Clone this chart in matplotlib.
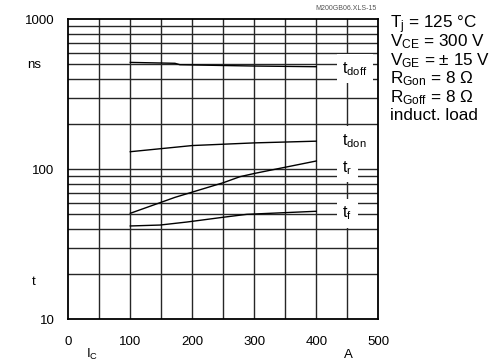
import matplotlib
matplotlib.use("Agg")
import matplotlib.pyplot as plt
import numpy as np

plt.rcParams['font.family'] = ['Liberation Sans', 'DejaVu Sans']
plt.rcParams['mathtext.fontset'] = 'custom'
plt.rcParams['mathtext.rm'] = 'Liberation Sans'
plt.rcParams['mathtext.it'] = 'Liberation Sans'
plt.rcParams['mathtext.default'] = 'rm'

# Switching times vs collector current (Tj = 125 °C)
ic_doff = [100, 172, 180, 250, 300, 400]
t_doff = [516, 509, 498, 492, 488, 483]

ic_don = [100, 200, 300, 400]
t_don = [131, 144, 150, 154]

ic_r = [100, 148, 172, 250, 277, 301, 400]
t_r = [50.9, 59.9, 65, 81.4, 89.3, 94, 113.6]

ic_f = [100, 148, 191, 250, 288, 400]
t_f = [41.9, 42.5, 44.5, 47.9, 50.1, 52.5]

curve_labels = [r'$\mathrm{t_{doff}}$', r'$\mathrm{t_{don}}$', r'$\mathrm{t_r}$', r'$\mathrm{t_f}$']
label_y = [468, 155, 102, 51]

x_ticks = [0, 100, 200, 300, 400, 500]
y_ticks = [10, 100, 1000]

conditions = [r'T$_\mathrm{j}$ = 125 °C',
              r'V$_\mathrm{CE}$ = 300 V',
              r'V$_\mathrm{GE}$ = ± 15 V',
              r'R$_\mathrm{Gon}$ = 8 Ω',
              r'R$_\mathrm{Goff}$ = 8 Ω',
              'induct. load']

fig = plt.figure(figsize=(4.95, 3.63), dpi=100)
ax = fig.add_axes([68.3 / 495, 1 - 319.3 / 363, 310 / 495, 300 / 363])
ax.set_yscale('log')
ax.set_xlim(0, 500)
ax.set_ylim(10, 1000)

grid_kw = dict(color='#262626', lw=1.0, zorder=1)
for xv in np.arange(50, 500, 50):
    ax.axvline(xv, **grid_kw)
for dec in (10, 100):
    for m in range(2, 10):
        ax.axhline(dec * m, **grid_kw)
ax.axhline(100, **grid_kw)

line_kw = dict(color='black', lw=1.0, zorder=2)
ax.plot(ic_doff, t_doff, **line_kw)
ax.plot(ic_don, t_don, **line_kw)
ax.plot(ic_r, t_r, **line_kw)
ax.plot(ic_f, t_f, **line_kw)

for lab, yv in zip(curve_labels, label_y):
    ax.text(442, yv, lab, fontsize=11.5, ha='left', va='center', zorder=3,
            bbox=dict(facecolor='white', edgecolor='none', pad=4))

for sp in ax.spines.values():
    sp.set_linewidth(1.3)
    sp.set_color('black')

ax.set_xticks(x_ticks)
ax.set_xticklabels([str(v) for v in x_ticks])
ax.set_yticks(y_ticks)
ax.set_yticklabels([str(v) for v in y_ticks])
ax.yaxis.set_minor_locator(matplotlib.ticker.NullLocator())
ax.tick_params(axis='both', length=0, labelsize=9.5, colors='black')
ax.tick_params(axis='x', pad=12)
ax.tick_params(axis='y', pad=10)

fig.text(34 / 495, 1 - 65 / 363, 'ns', fontsize=9.5, ha='center', va='center')
fig.text(34 / 495, 1 - 282 / 363, 't', fontsize=9.5, ha='center', va='center')
fig.text(92 / 495, 1 - 354 / 363, r'I$_\mathrm{C}$', fontsize=9.5, ha='center', va='center')
fig.text(348 / 495, 1 - 355 / 363, 'A', fontsize=9.5, ha='center', va='center')
fig.text(377 / 495, 1 - 9 / 363, 'M200GB06.XLS-15', fontsize=5, color='#555555',
         ha='right', va='center')

# Test conditions, one baseline per line
for i, s in enumerate(conditions):
    fig.text(390 / 495, 1 - (28 + 18.5 * i) / 363, s, fontsize=12.3,
             ha='left', va='baseline')

fig.savefig('out.png', dpi=100)
